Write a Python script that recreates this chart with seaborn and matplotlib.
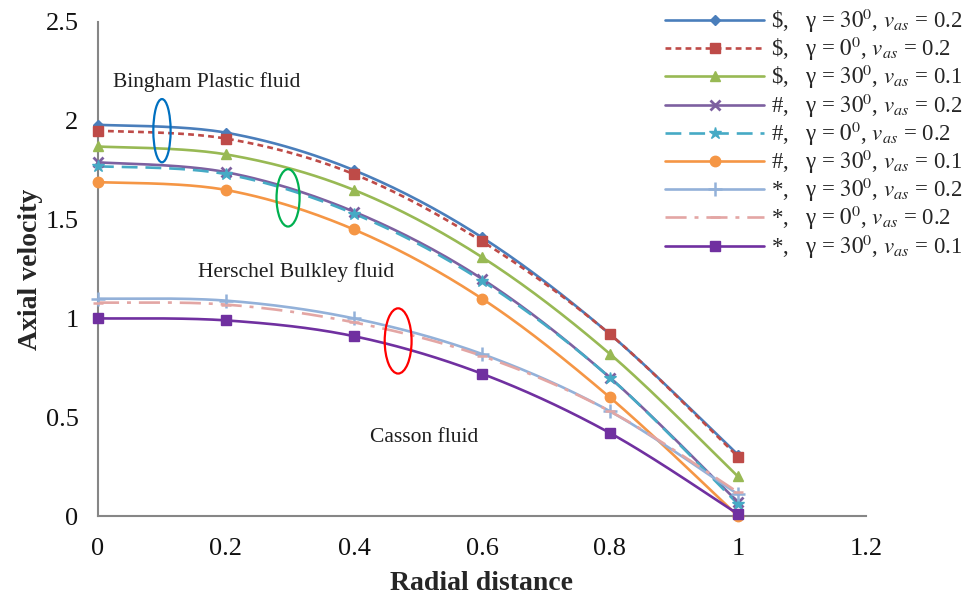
import numpy as np
import pandas as pd
import matplotlib
matplotlib.use("Agg")
import matplotlib.pyplot as plt
from matplotlib.lines import Line2D
from matplotlib.patches import Ellipse
import seaborn as sns

# ---- data -------------------------------------------------------------
radial = [0.0, 0.2, 0.4, 0.6, 0.8, 1.0]

bingham_g30_v02 = [1.98, 1.94, 1.75, 1.41, 0.92, 0.31]
bingham_g0_v02 = [1.95, 1.91, 1.73, 1.39, 0.92, 0.30]
bingham_g30_v01 = [1.87, 1.83, 1.65, 1.31, 0.82, 0.20]
herschel_g30_v02 = [1.79, 1.74, 1.54, 1.20, 0.70, 0.07]
herschel_g0_v02 = [1.77, 1.73, 1.53, 1.19, 0.70, 0.06]
herschel_g30_v01 = [1.69, 1.65, 1.45, 1.10, 0.60, 0.00]
casson_g30_v02 = [1.10, 1.09, 1.00, 0.82, 0.53, 0.11]
casson_g0_v02 = [1.08, 1.07, 0.98, 0.81, 0.53, 0.12]
casson_g30_v01 = [1.00, 0.99, 0.91, 0.72, 0.42, 0.01]

series_labels = [
    r"\$,   γ = $30^0$, $v_{as}$ = 0.2",
    r"\$,   γ = $0^0$, $v_{as}$ = 0.2",
    r"\$,   γ = $30^0$, $v_{as}$ = 0.1",
    r"#,   γ = $30^0$, $v_{as}$ = 0.2",
    r"#,   γ = $0^0$, $v_{as}$ = 0.2",
    r"#,   γ = $30^0$, $v_{as}$ = 0.1",
    r"*,   γ = $30^0$, $v_{as}$ = 0.2",
    r"*,   γ = $0^0$, $v_{as}$ = 0.2",
    r"*,   γ = $30^0$, $v_{as}$ = 0.1",
]
series_values = [
    bingham_g30_v02, bingham_g0_v02, bingham_g30_v01,
    herschel_g30_v02, herschel_g0_v02, herschel_g30_v01,
    casson_g30_v02, casson_g0_v02, casson_g30_v01,
]

x_ticks = [0, 0.2, 0.4, 0.6, 0.8, 1.0, 1.2]
x_tick_labels = ["0", "0.2", "0.4", "0.6", "0.8", "1", "1.2"]
y_ticks = [0, 0.5, 1.0, 1.5, 2.0, 2.5]
y_tick_labels = ["0", "0.5", "1", "1.5", "2", "2.5"]

# ---- styles -----------------------------------------------------------
styles = [
    dict(color="#4A7EBB", ls="-", marker="D", ms=5),
    dict(color="#BE4B48", ls=(0, (2.2, 1.6)), marker="s", ms=7.5),
    dict(color="#98B954", ls="-", marker="^", ms=7.5),
    dict(color="#7D60A0", ls="-", marker="x", ms=7, mew=2),
    dict(color="#46AAC5", ls=(0, (6, 3)), marker="*", ms=9),
    dict(color="#F59645", ls="-", marker="o", ms=7.5),
    dict(color="#93B1D9", ls="-", marker="+", ms=10, mew=1.8),
    dict(color="#E3A6A4", ls=(0, (8, 3, 1.5, 3)), marker="_", ms=7, mew=1.8),
    dict(color="#7030A0", ls="-", marker="s", ms=7.5),
]


def smooth_curve(x, y, n=40):
    """Catmull-Rom style Bezier curve through the points (drawing only)."""
    p = np.column_stack([x, y]).astype(float)
    ext = np.vstack([p[0], p, p[-1]])
    out = []
    t = np.linspace(0, 1, n)[:, None]
    for i in range(1, len(ext) - 2):
        p0, p1, p2, p3 = ext[i - 1], ext[i], ext[i + 1], ext[i + 2]
        c1 = p1 + (p2 - p0) / 6.0
        c2 = p2 - (p3 - p1) / 6.0
        seg = ((1 - t) ** 3) * p1 + 3 * ((1 - t) ** 2) * t * c1 \
            + 3 * (1 - t) * t ** 2 * c2 + t ** 3 * p2
        out.append(seg if i == 1 else seg[1:])
    out = np.vstack(out)
    return out[:, 0], out[:, 1]


sns.set_style("white")
plt.rcParams["font.family"] = ["Liberation Serif", "DejaVu Serif"]
plt.rcParams["mathtext.fontset"] = "stix"

fig = plt.figure(figsize=(9.69, 6.01), dpi=100)
ax = fig.add_axes([0.1011, 0.1414, 0.7926, 0.822])

handles = []
for label, vals, st in zip(series_labels, series_values, styles):
    xs, ys = smooth_curve(radial, vals)
    curve = pd.DataFrame({"r": xs, "u": ys})
    sns.lineplot(data=curve, x="r", y="u", ax=ax, color=st["color"],
                 linestyle=st["ls"], linewidth=1.9, sort=False,
                 estimator=None, zorder=3)
    ax.plot(radial, vals, linestyle="none", marker=st["marker"],
            markersize=st["ms"], color=st["color"],
            markeredgewidth=st.get("mew", 1.0), clip_on=False, zorder=4)
    handles.append(Line2D([], [], color=st["color"], linestyle=st["ls"],
                          linewidth=1.9, marker=st["marker"],
                          markersize=st["ms"],
                          markeredgewidth=st.get("mew", 1.0)))

# ---- annotations ------------------------------------------------------
ax.add_patch(Ellipse((0.100, 1.95), 0.027, 0.32, fill=False,
                     edgecolor="#0070C0", linewidth=1.6, zorder=5))
ax.add_patch(Ellipse((0.297, 1.61), 0.036, 0.29, fill=False,
                     edgecolor="#00B050", linewidth=1.6, zorder=5))
ax.add_patch(Ellipse((0.469, 0.886), 0.042, 0.33, fill=False,
                     edgecolor="#FF0000", linewidth=1.6, zorder=5))

ax.text(0.023, 2.196, "Bingham Plastic fluid", fontsize=15.5,
        color="#1e1e1e", va="center", ha="left")
ax.text(0.156, 1.235, "Herschel Bulkley fluid", fontsize=15.5,
        color="#1e1e1e", va="center", ha="left")
ax.text(0.425, 0.395, "Casson fluid", fontsize=15.5,
        color="#1e1e1e", va="center", ha="left")

# ---- axes -------------------------------------------------------------
ax.set_xlim(0, 1.2)
ax.set_ylim(0, 2.5)
ax.set_xticks(x_ticks)
ax.set_xticklabels(x_tick_labels)
ax.set_yticks(y_ticks)
ax.set_yticklabels(y_tick_labels)
ax.tick_params(axis="both", direction="out", length=6, width=1.5,
               color="#868686", labelsize=19, labelcolor="#111111", pad=8)
ax.tick_params(axis="x", pad=10)
for side in ("top", "right"):
    ax.spines[side].set_visible(False)
for side in ("left", "bottom"):
    ax.spines[side].set_color("#868686")
    ax.spines[side].set_linewidth(1.5)

ax.set_xlabel("Radial distance", fontsize=20, fontweight="bold", labelpad=8)
ax.set_ylabel("Axial velocity", fontsize=20, fontweight="bold", labelpad=2)

fig.legend(handles, series_labels, loc="upper right",
           bbox_to_anchor=(1.0, 1.0), frameon=False, fontsize=16.5,
           handlelength=4.3, handletextpad=0.3, labelspacing=0.0,
           borderaxespad=0.1, borderpad=0.2)

fig.savefig("out.png", dpi=100, facecolor="white")
